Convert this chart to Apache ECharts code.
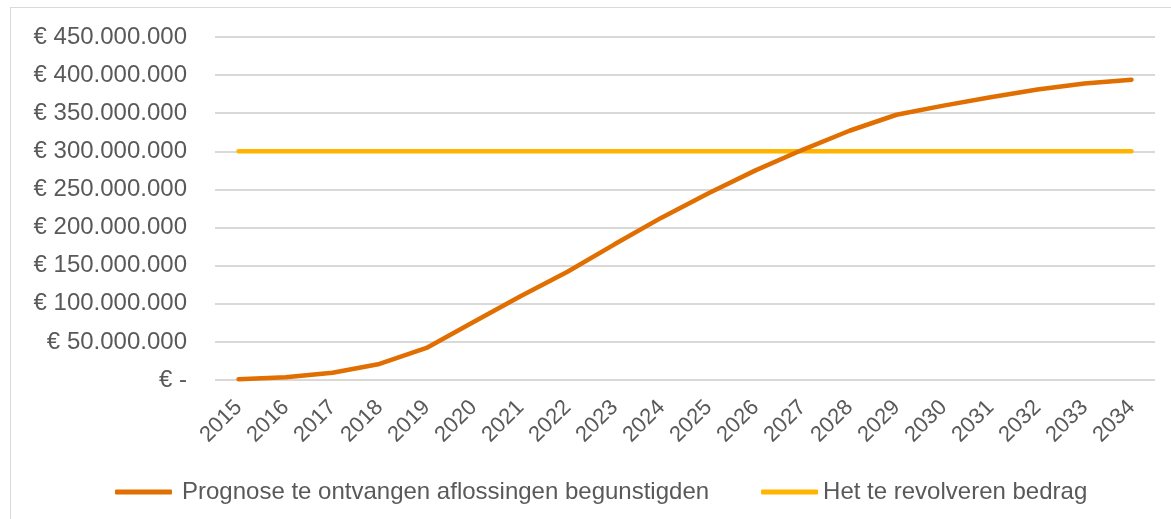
<!DOCTYPE html>
<html>
<head>
<meta charset="utf-8">
<script src="https://cdn.jsdelivr.net/npm/echarts@6/dist/echarts.min.js"></script>
<style>
  html, body { margin: 0; padding: 0; background: #fff; }
  #chart { width: 1171px; height: 519px; }
  #frame {
    position: absolute; left: 10px; top: 7px; width: 1170px; height: 520px;
    border: 1px solid #d9d9d9; pointer-events: none;
  }
</style>
</head>
<body>
<div id="chart"></div>
<div id="frame"></div>
<script>
  // jaren en bedragen (in euro)
  const years = ['2015','2016','2017','2018','2019','2020','2021','2022','2023','2024',
                 '2025','2026','2027','2028','2029','2030','2031','2032','2033','2034'];
  const prognose = [1000000, 3500000, 9500000, 21000000, 42000000, 76000000, 110000000,
                    142000000, 178000000, 213000000, 245000000, 275000000, 302000000,
                    327000000, 348000000, 360000000, 371000000, 381000000, 389000000, 394000000];
  const revolveren = [300000000, 300000000, 300000000, 300000000, 300000000, 300000000,
                      300000000, 300000000, 300000000, 300000000, 300000000, 300000000,
                      300000000, 300000000, 300000000, 300000000, 300000000, 300000000,
                      300000000, 300000000];
  const names = ['Prognose te ontvangen aflossingen begunstigden', 'Het te revolveren bedrag'];

  function euro(v) {
    if (v === 0) return '€ -';
    return '€ ' + String(v).replace(/\B(?=(\d{3})+(?!\d))/g, '.');
  }

  let chart = echarts.init(document.getElementById('chart'));
  let font = 'Liberation Sans, Arial, sans-serif';
  let option = {
    animation: false,
    grid: { left: 215, right: 16, top: 37, bottom: 139, containLabel: false },
    legend: {
      left: 110, top: 475,
      icon: 'roundRect',
      itemWidth: 57, itemHeight: 5,
      itemGap: 52,
      textStyle: { fontFamily: font, fontSize: 24, color: '#595959' },
      data: [
        { name: names[0], textStyle: { padding: [0, 0, 0, 5] } },
        { name: names[1] }
      ]
    },
    xAxis: {
      type: 'category',
      data: years,
      axisLine: { show: false },
      axisTick: { show: false },
      axisLabel: {
        rotate: 45, margin: 24,
        fontFamily: font, fontSize: 22, color: '#595959',
        interval: 0
      }
    },
    yAxis: {
      type: 'value',
      min: 0, max: 450000000, interval: 50000000,
      axisLine: { show: false },
      axisTick: { show: false },
      splitLine: { lineStyle: { color: '#d9d9d9', width: 2 } },
      axisLabel: {
        margin: 28,
        fontFamily: font, fontSize: 24, color: '#595959',
        formatter: euro
      }
    },
    series: [
      {
        name: names[0], type: 'line', data: prognose,
        symbol: 'none', smooth: false,
        lineStyle: { color: '#E06E00', width: 4.5, cap: 'round' },
        itemStyle: { color: '#E06E00' },
        z: 3
      },
      {
        name: names[1], type: 'line', data: revolveren,
        symbol: 'none',
        lineStyle: { color: '#FFB400', width: 4.5, cap: 'round' },
        itemStyle: { color: '#FFB400' },
        z: 2
      }
    ]
  };
  chart.setOption(option);
  window.addEventListener('resize', function () { chart.resize(); });
</script>
</body>
</html>
